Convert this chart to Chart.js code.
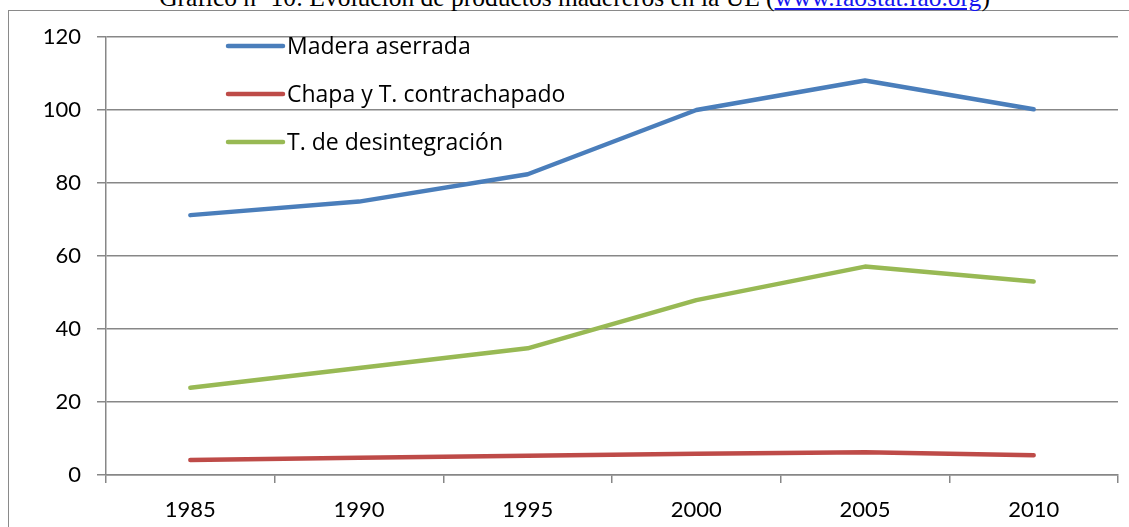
<!DOCTYPE html>
<html>
<head>
<meta charset="utf-8">
<script src="https://cdn.jsdelivr.net/npm/chart.js@4"></script>
<style>
  html, body { margin: 0; padding: 0; background: #fff; overflow: hidden; }
  #wrap { position: relative; width: 1129px; height: 527px; overflow: hidden; }
  #frame { position: absolute; left: 8px; top: 10px; width: 1200px; height: 600px;
           border-left: 1px solid #8a8a8a; border-top: 1px solid #8a8a8a; }
  #title { position: absolute; left: 10px; width: 1129px; top: -15px; text-align: center;
           font-family: "Liberation Serif", "Times New Roman", serif; font-size: 25.5px;
           line-height: 26px; color: #000; white-space: nowrap; }
  #title a { color: #1515f0; text-decoration: underline; }
  canvas { position: absolute; left: 0; top: 0; }
</style>
</head>
<body>
<div id="wrap">
  <div id="frame"></div>
  <div id="title">Gráfico nº 10: Evolución de productos madereros en la UE (<a>www.faostat.fao.org</a>)</div>
  <canvas id="chart" width="1129" height="527"></canvas>
</div>
<script>
// data
const years = ["1985", "1990", "1995", "2000", "2005", "2010"];
const maderaAserrada = [71.2, 74.9, 82.4, 100.0, 108.1, 100.2];
const chapaContrachapado = [4.1, 4.7, 5.3, 5.8, 6.2, 5.4];
const desintegracion = [23.9, 29.3, 34.7, 47.9, 57.1, 53.0];
const yTicks = [0, 20, 40, 60, 80, 100, 120];

const FONT = "Lato";
const LEGEND_FONT = "Open Sans";
const GRID = "#878787";

/************ LEGEND INSIDE PLOT ************/
const insideLegend = {
  id: "insideLegend",
  afterDraw(chart) {
    const ctx = chart.ctx;
    const x0 = 228, x1 = 283;
    const rows = [46, 94, 142];
    ctx.save();
    chart.data.datasets.forEach((ds, i) => {
      ctx.strokeStyle = ds.borderColor;
      ctx.lineWidth = ds.borderWidth;
      ctx.lineCap = "round";
      ctx.beginPath();
      ctx.moveTo(x0, rows[i]);
      ctx.lineTo(x1, rows[i]);
      ctx.stroke();
      ctx.fillStyle = "#000";
      ctx.font = "23px " + LEGEND_FONT;
      ctx.textBaseline = "middle";
      ctx.fillText(ds.label, 287, rows[i] + 1);
    });
    ctx.restore();
  },
};

new Chart(document.getElementById("chart"), {
  type: "line",
  data: {
    labels: years,
    datasets: [
      {
        label: "Madera aserrada",
        data: maderaAserrada,
        borderColor: "#4a7ebb",
      },
      {
        label: "Chapa y T. contrachapado",
        data: chapaContrachapado,
        borderColor: "#be4b48",
      },
      {
        label: "T. de desintegración",
        data: desintegracion,
        borderColor: "#98b954",
      },
    ].map((d) => ({
      ...d,
      borderWidth: 4.5,
      borderCapStyle: "round",
      borderJoinStyle: "round",
      pointRadius: 0,
      tension: 0,
      fill: false,
    })),
  },
  options: {
    responsive: false,
    animation: false,
    layout: { padding: { top: 37, right: 11, left: 0, bottom: 0 } },
    plugins: { legend: { display: false }, tooltip: { enabled: false } },
    scales: {
      x: {
        offset: true,
        grid: { offset: true, drawOnChartArea: false, drawTicks: true, tickLength: 8, color: GRID, lineWidth: 1.5 },
        border: { color: GRID, width: 1.5 },
        ticks: { color: "#000", font: { family: FONT, size: 22 }, padding: 14, maxRotation: 0 },
        afterFit: (s) => { s.height = 52; },
      },
      y: {
        min: 0,
        max: 120,
        afterBuildTicks: (s) => { s.ticks = yTicks.map((v) => ({ value: v })); },
        grid: { color: GRID, lineWidth: 1.5, tickLength: 9 },
        border: { color: GRID, width: 1.5 },
        ticks: { color: "#000", font: { family: FONT, size: 22 }, padding: 16 },
        afterFit: (s) => { s.width = 106; },
      },
    },
  },
  plugins: [insideLegend],
});
</script>
</body>
</html>
